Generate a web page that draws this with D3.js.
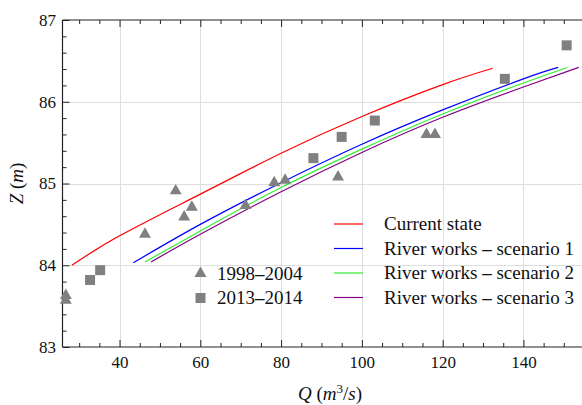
<!DOCTYPE html>
<html>
<head>
<meta charset="utf-8">
<script src="https://cdn.jsdelivr.net/npm/d3@7"></script>
<style>
  html, body { margin: 0; padding: 0; background: #fff; }
  svg { display: block; font-family: "Liberation Serif", "Times New Roman", serif; }
</style>
</head>
<body>
<svg id="chart" width="582" height="405"></svg>
<script>
// Rating curves: discharge Q (m3/s) vs water level Z (m)
const currentQ = [28.2, 40, 60, 80, 100, 120, 132.4];
const currentZ = [84.00, 84.36, 84.87, 85.37, 85.82, 86.21, 86.41];

const scen1Q = [43.4, 60, 80, 100, 120, 140, 148.6];
const scen1Z = [84.03, 84.50, 85.01, 85.48, 85.90, 86.28, 86.42];

const scen2Q = [46.3, 60, 80, 100, 120, 140, 150.9];
const scen2Z = [84.04, 84.42, 84.95, 85.42, 85.85, 86.23, 86.42];

const scen3Q = [47.8, 60, 80, 100, 120, 140, 153.7];
const scen3Z = [84.04, 84.38, 84.90, 85.38, 85.81, 86.18, 86.42];

// Observed gaugings
const obs1998Q = [26.7, 26.7, 46.3, 53.9, 56.0, 57.9, 71.2, 78.3, 81.0, 94.1, 116.0, 118.1];
const obs1998Z = [83.63, 83.57, 84.38, 84.91, 84.59, 84.71, 84.73, 85.01, 85.04, 85.08, 85.60, 85.60];

const obs2013Q = [32.7, 35.2, 88.0, 95.0, 103.2, 135.4, 150.7];
const obs2013Z = [83.82, 83.94, 85.31, 85.57, 85.77, 86.28, 86.69];

// Axis ticks
const xMajor = [40, 60, 80, 100, 120, 140];
const xMinor = [30, 35, 45, 50, 55, 65, 70, 75, 85, 90, 95, 105, 110, 115, 125, 130, 135, 145, 150, 155];
const yMajor = [83, 84, 85, 86, 87];
const yMinor = [83.2, 83.4, 83.6, 83.8, 84.2, 84.4, 84.6, 84.8, 85.2, 85.4, 85.6, 85.8, 86.2, 86.4, 86.6, 86.8];
const yGrid = [84, 85, 86];

const lineSeries = [
  { label: "Current state", q: currentQ, z: currentZ, color: "#ff0000" },
  { label: "River works – scenario 1", q: scen1Q, z: scen1Z, color: "#0000ff" },
  { label: "River works – scenario 2", q: scen2Q, z: scen2Z, color: "#33ee33" },
  { label: "River works – scenario 3", q: scen3Q, z: scen3Z, color: "#800080" }
];
const pointSeries = [
  { label: "1998–2004", q: obs1998Q, z: obs1998Z, symbol: d3.symbolTriangle, size: 62 },
  { label: "2013–2014", q: obs2013Q, z: obs2013Z, symbol: d3.symbolSquare, size: 100 }
];

const svg = d3.select("#chart");
const plotL = 62.5, plotT = 20, plotB = 347, plotR = 584;

const x = d3.scaleLinear().domain([26, 155]).range([63, plotR]);
const y = d3.scaleLinear().domain([83, 87]).range([plotB, plotT]);

// Grid
const grid = svg.append("g").attr("stroke", "#dedede").attr("stroke-width", 1);
grid.selectAll("line.gx").data(xMajor).join("line")
  .attr("x1", d => Math.round(x(d)) + 0.5).attr("x2", d => Math.round(x(d)) + 0.5)
  .attr("y1", plotT).attr("y2", plotB);
grid.selectAll("line.gy").data(yGrid).join("line")
  .attr("y1", d => Math.round(y(d)) + 0.5).attr("y2", d => Math.round(y(d)) + 0.5)
  .attr("x1", plotL).attr("x2", 582);

// Axes with inward ticks
function styleAxis(g) {
  g.select(".domain").remove();
  g.selectAll(".tick line").attr("stroke", "#222").attr("stroke-width", 1);
  g.selectAll(".tick text").attr("fill", "#111").style("font-size", "17px")
    .style("font-family", "Liberation Serif");
}

svg.append("g").attr("transform", `translate(0,${plotB})`)
  .call(d3.axisBottom(x).tickValues(xMajor).tickSizeInner(-7).tickSizeOuter(0).tickPadding(9))
  .call(styleAxis);
svg.append("g").attr("transform", `translate(0,${plotB})`)
  .call(d3.axisBottom(x).tickValues(xMinor).tickSizeInner(-4).tickSizeOuter(0).tickFormat(""))
  .call(styleAxis);
svg.append("g").attr("transform", `translate(0,${plotT})`)
  .call(d3.axisTop(x).tickValues(xMajor).tickSizeInner(-7).tickSizeOuter(0).tickFormat(""))
  .call(styleAxis);
svg.append("g").attr("transform", `translate(0,${plotT})`)
  .call(d3.axisTop(x).tickValues(xMinor).tickSizeInner(-4).tickSizeOuter(0).tickFormat(""))
  .call(styleAxis);
svg.append("g").attr("transform", `translate(${plotL},0)`)
  .call(d3.axisLeft(y).tickValues(yMajor).tickSizeInner(-7).tickSizeOuter(0).tickPadding(6.5).tickFormat(d3.format("d")))
  .call(styleAxis);
svg.append("g").attr("transform", `translate(${plotL},0)`)
  .call(d3.axisLeft(y).tickValues(yMinor).tickSizeInner(-4).tickSizeOuter(0).tickFormat(""))
  .call(styleAxis);

// Frame
const frame = svg.append("g").attr("stroke", "#222").attr("stroke-width", 1.2).attr("fill", "none");
frame.append("line").attr("x1", plotL).attr("x2", plotL).attr("y1", plotT).attr("y2", plotB);
frame.append("line").attr("x1", plotL).attr("x2", 582).attr("y1", plotT).attr("y2", plotT);
frame.append("line").attr("x1", plotL).attr("x2", 582).attr("y1", plotB).attr("y2", plotB);

// Curves
const line = d3.line().x(d => x(d[0])).y(d => y(d[1])).curve(d3.curveNatural);
svg.append("g").selectAll("path").data(lineSeries).join("path")
  .attr("d", s => line(s.q.map((q, i) => [q, s.z[i]])))
  .attr("fill", "none").attr("stroke", s => s.color).attr("stroke-width", 1.2);

// Observations
pointSeries.forEach(s => {
  svg.append("g").selectAll("path").data(s.q.map((q, i) => [q, s.z[i]])).join("path")
    .attr("transform", d => `translate(${x(d[0])},${y(d[1])})`)
    .attr("d", d3.symbol().type(s.symbol).size(s.size))
    .attr("fill", "#808080");
});

// Legend text: the dash between words is drawn heavier
function dashedLabel(text, label) {
  const parts = label.split("–");
  parts.forEach((p, i) => {
    if (i > 0) text.append("tspan").style("font-weight", "bold").text("–");
    text.append("tspan").text(p);
  });
}

const legend = svg.append("g").style("font-size", "19px").style("font-family", "Liberation Serif");
lineSeries.forEach((s, i) => {
  const ly = 224 + i * 24.5;
  legend.append("line").attr("x1", 334).attr("x2", 363).attr("y1", ly).attr("y2", ly)
    .attr("stroke", s.color).attr("stroke-width", 1.2);
  dashedLabel(legend.append("text").attr("x", 384).attr("y", ly + 6).attr("fill", "#111"), s.label);
});

pointSeries.forEach((s, i) => {
  const ly = 273.5 + i * 24.5;
  legend.append("path").attr("transform", `translate(200.5,${ly})`)
    .attr("d", d3.symbol().type(s.symbol).size(s.size)).attr("fill", "#808080");
  dashedLabel(legend.append("text").attr("x", 217).attr("y", ly + 6).attr("fill", "#111"), s.label);
});

// Axis titles
const xt = svg.append("text").attr("x", 330).attr("y", 400).attr("text-anchor", "middle")
  .style("font-size", "19px").attr("fill", "#111");
xt.append("tspan").style("font-style", "italic").text("Q");
xt.append("tspan").text(" (");
xt.append("tspan").style("font-style", "italic").text("m");
xt.append("tspan").attr("dy", -7).style("font-size", "13px").text("3");
xt.append("tspan").attr("dy", 7).text("/");
xt.append("tspan").style("font-style", "italic").text("s");
xt.append("tspan").text(")");

const yt = svg.append("text").attr("transform", "translate(23,183.5) rotate(-90)")
  .attr("text-anchor", "middle").style("font-size", "19px").attr("fill", "#111");
yt.append("tspan").style("font-style", "italic").text("Z");
yt.append("tspan").text(" (");
yt.append("tspan").style("font-style", "italic").text("m");
yt.append("tspan").text(")");
</script>
</body>
</html>
